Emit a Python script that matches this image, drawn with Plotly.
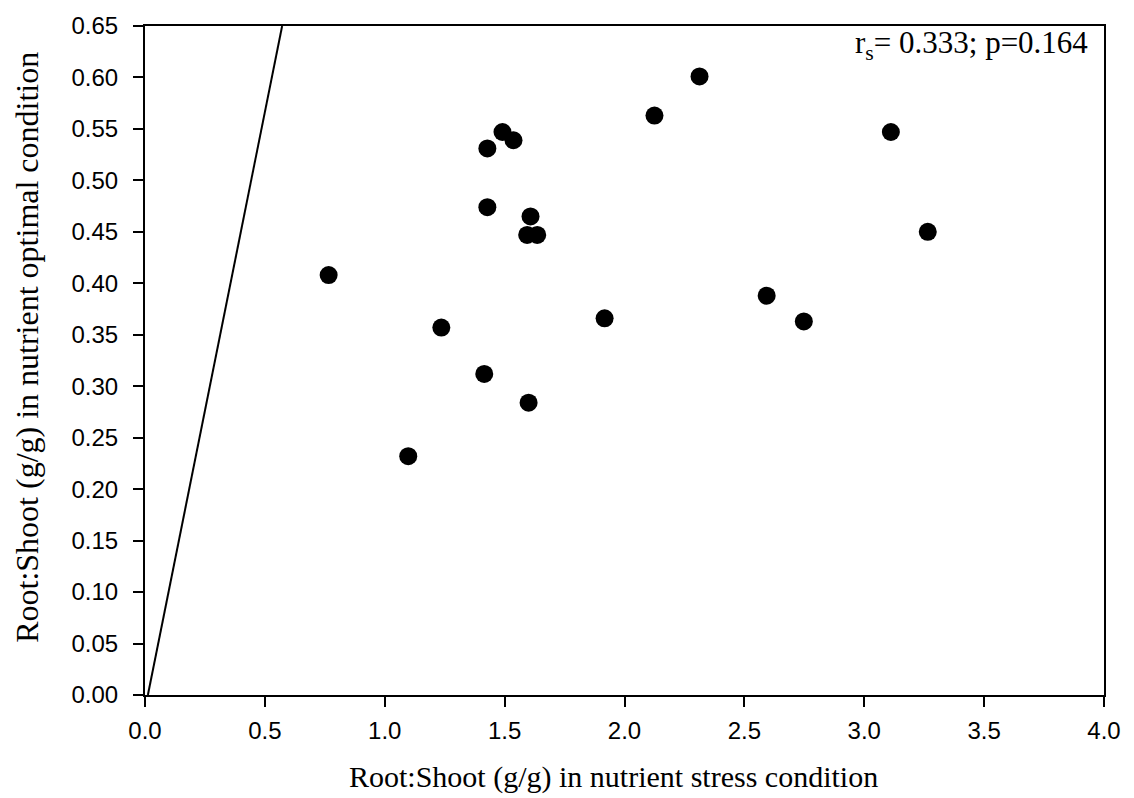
import plotly.graph_objects as go

# Data
stress = [0.766, 1.098, 1.236, 1.415, 1.428, 1.491, 1.537, 1.428, 1.608, 1.594,
          1.636, 1.600, 1.917, 2.125, 2.313, 2.593, 2.748, 3.111, 3.265]
optimal = [0.408, 0.232, 0.357, 0.312, 0.531, 0.547, 0.539, 0.474, 0.465, 0.447,
           0.447, 0.284, 0.366, 0.563, 0.601, 0.388, 0.363, 0.547, 0.450]
line_x = [0.012, 0.572]
line_y = [0.0, 0.65]
x_ticks = [0.0, 0.5, 1.0, 1.5, 2.0, 2.5, 3.0, 3.5, 4.0]
y_ticks = [round(0.05 * i, 2) for i in range(14)]
annot_text = "r<sub>s</sub>= 0.333; p=0.164"
x_title = "Root:Shoot (g/g) in nutrient stress condition"
y_title = "Root:Shoot (g/g) in nutrient optimal condition"

SERIF = "Liberation Serif, Times New Roman"
SANS = "Liberation Sans, Arial"

fig = go.Figure()
fig.add_trace(go.Scatter(x=line_x, y=line_y, mode="lines",
                         line=dict(color="black", width=2), showlegend=False))
fig.add_trace(go.Scatter(x=stress, y=optimal, mode="markers",
                         marker=dict(color="black", size=18), showlegend=False))

axis_common = dict(showgrid=False, zeroline=False, showline=True, linecolor="black",
                   linewidth=2, mirror=True, ticks="outside", ticklen=10,
                   tickwidth=1.5, tickcolor="black",
                   tickfont=dict(family=SANS, size=24, color="black"))

fig.update_layout(
    width=1134, height=798,
    margin=dict(l=145, r=30, t=21, b=103),
    plot_bgcolor="white", paper_bgcolor="white",
    xaxis=dict(range=[0, 4.0], tickvals=x_ticks,
               ticktext=[f"{v:.1f}" for v in x_ticks],
               ticklabelstandoff=3,
               **axis_common),
    yaxis=dict(range=[0, 0.65], tickvals=y_ticks,
               ticktext=[f"{v:.2f}" for v in y_ticks],
               ticklabelstandoff=10,
               **axis_common),
    annotations=[
        dict(text=annot_text, xref="paper", yref="paper", x=0.985, y=1.004,
             xanchor="right", yanchor="top", showarrow=False,
             font=dict(family=SERIF, size=31, color="black")),
        dict(text=x_title, xref="paper", yref="paper", x=0.489, y=-0.123,
             xanchor="center", yanchor="middle", showarrow=False,
             font=dict(family=SERIF, size=30, color="black")),
        dict(text=y_title, xref="paper", yref="paper", x=-0.123, y=0.519,
             xanchor="center", yanchor="middle", showarrow=False, textangle=-90,
             font=dict(family=SERIF, size=32, color="black")),
    ],
)

fig.write_html("out.html")
